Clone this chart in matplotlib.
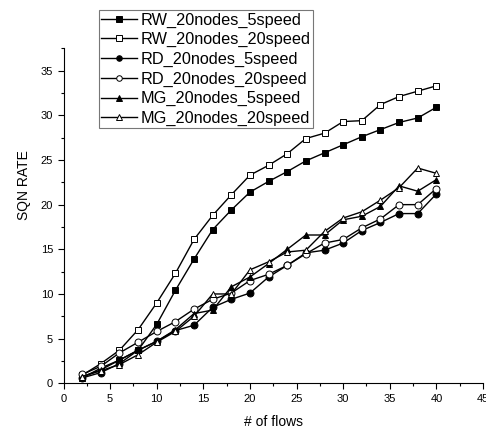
import numpy as np
import matplotlib
matplotlib.use("Agg")
import matplotlib.pyplot as plt
from matplotlib.ticker import MultipleLocator

plt.rcParams['font.family'] = ['Liberation Sans', 'DejaVu Sans']

flows = [2, 4, 6, 8, 10, 12, 14, 16, 18, 20, 22, 24, 26, 28, 30, 32, 34, 36, 38, 40]

rw_5 = [0.6, 1.7, 2.6, 3.7, 6.6, 10.4, 13.9, 17.2, 19.4, 21.4, 22.6, 23.7, 24.9, 25.8,
        26.7, 27.6, 28.4, 29.2, 29.7, 30.9]
rw_20 = [0.9, 2.2, 3.7, 6.0, 9.0, 12.3, 16.1, 18.8, 21.1, 23.3, 24.4, 25.7, 27.4, 28.0,
         29.3, 29.4, 31.2, 32.1, 32.7, 33.3]
rd_5 = [0.6, 1.2, 2.2, 3.7, 4.7, 5.9, 6.5, 8.5, 9.4, 10.1, 11.9, 13.2, 14.6, 14.9,
        15.7, 17.1, 18.0, 19.0, 19.0, 21.2]
rd_20 = [1.0, 1.9, 3.4, 4.6, 5.8, 6.9, 8.3, 9.4, 10.1, 11.5, 12.2, 13.2, 14.5, 15.7,
         16.1, 17.4, 18.4, 20.0, 20.0, 21.8]
mg_5 = [0.75, 1.5, 2.6, 3.7, 4.7, 6.0, 7.8, 8.2, 10.8, 11.9, 13.4, 15.0, 16.6, 16.6,
        18.3, 18.7, 19.8, 22.1, 21.5, 22.8]
mg_20 = [0.75, 1.4, 2.1, 3.2, 4.6, 5.8, 7.5, 10.0, 10.0, 12.7, 13.6, 14.7, 14.9, 17.0,
         18.5, 19.2, 20.5, 21.9, 24.1, 23.5]

series = [
    ("RW_20nodes_5speed", rw_5, "s", "black"),
    ("RW_20nodes_20speed", rw_20, "s", "white"),
    ("RD_20nodes_5speed", rd_5, "o", "black"),
    ("RD_20nodes_20speed", rd_20, "o", "white"),
    ("MG_20nodes_5speed", mg_5, "^", "black"),
    ("MG_20nodes_20speed", mg_20, "^", "white"),
]

fig = plt.figure(figsize=(4.86, 4.36), dpi=100)
ax = fig.add_axes([0.1307, 0.1209, 0.8631, 0.7683])

for label, vals, mk, fc in series:
    ax.plot(flows, vals, color="black", lw=1.0, marker=mk, markersize=5,
            markerfacecolor=fc, markeredgecolor="black", markeredgewidth=0.7,
            label=label)

ax.set_xlim(0, 45)
ax.set_ylim(0, 37.5)
ax.xaxis.set_major_locator(MultipleLocator(5))
ax.xaxis.set_minor_locator(MultipleLocator(2.5))
ax.yaxis.set_major_locator(MultipleLocator(5))
ax.yaxis.set_minor_locator(MultipleLocator(2.5))
ax.tick_params(which="both", direction="out", labelsize=8, width=0.8)
ax.tick_params(which="major", length=4)
ax.tick_params(which="minor", length=2.5)
for s in ("top", "right"):
    ax.spines[s].set_visible(False)

ax.set_xlabel("# of flows", fontsize=10, labelpad=8)
ax.set_ylabel("SQN RATE", fontsize=10)
ax.yaxis.set_label_coords(-0.078, 0.592)

leg = fig.legend(loc="upper left", bbox_to_anchor=(99 / 486, 1 - 10 / 436),
                 frameon=True, fancybox=False, edgecolor="black", fontsize=11.7,
                 handlelength=2.2, handletextpad=0.2, labelspacing=0.28,
                 borderpad=0.15, borderaxespad=0, markerscale=0.8)
leg.get_frame().set_linewidth(0.8)
leg.get_frame().set_edgecolor("#555555")

fig.savefig("out.png", dpi=100)
